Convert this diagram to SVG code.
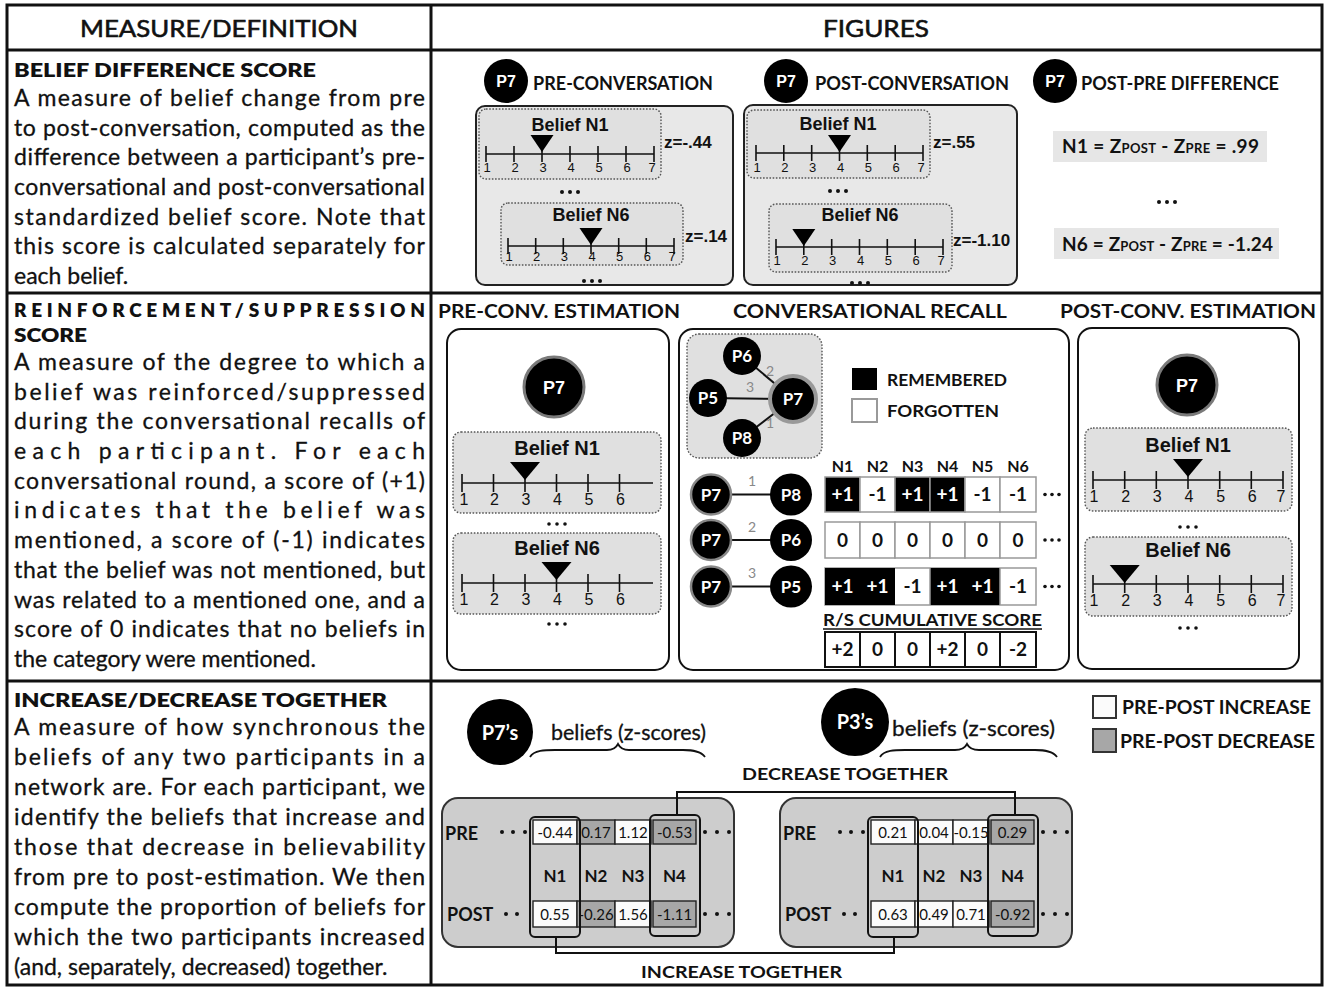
<svg xmlns="http://www.w3.org/2000/svg" width="1329" height="987" viewBox="0 0 1329 987">
<defs>
<style>
.s{font-family:Lato,"Open Sans","DejaVu Sans",sans-serif;fill:#111}
.a{font-family:"Liberation Sans",Arial,sans-serif;fill:#111}
.body{font-size:23px;stroke:#111;stroke-width:0.3}
.hd{font-size:19px;font-weight:800}
.cap{font-size:19px;font-weight:700}
.bl{font-weight:700}
.w{fill:#fff}
.grid{stroke:#111;stroke-width:3;fill:none}
.p1{fill:#e8e8e8;stroke:#222;stroke-width:2}
.db{fill:#e0e0e0;stroke:#555;stroke-width:1.4;stroke-dasharray:1.6 1.6}
.ax{stroke:#111;stroke-width:1.6;fill:none}
.pn{fill:#fff;stroke:#111;stroke-width:2}
.g3{fill:#cdcdcd;stroke:#333;stroke-width:2}
.cw{fill:#fbfbfb;stroke:#222;stroke-width:1.4}
.cg{fill:#a7a7a7;stroke:#222;stroke-width:1.4}
.col{fill:none;stroke:#111;stroke-width:2}
.conn{fill:none;stroke:#111;stroke-width:2}
.edge{stroke:#111;stroke-width:2}
.lbl{font-family:Lato,sans-serif;font-size:14px;fill:#888}
.rw{fill:#fff;stroke:#999;stroke-width:1.5}
.rb{fill:#000;stroke:#999;stroke-width:1.5}
.n13{font-size:13px}
.n16{font-size:16px}
.z{font-size:17px;font-weight:700}
.bel{font-weight:700}
.cv{font-size:15px}
.top{font-size:24px;stroke:#111;stroke-width:0.6}
</style>
</defs>
<rect width="1329" height="987" fill="#fff"/>

<g id="grid">
<rect class="grid" x="7" y="5" width="1315" height="980"/>
<line class="grid" x1="7" y1="50" x2="1322" y2="50"/>
<line class="grid" x1="7" y1="293" x2="1322" y2="293"/>
<line class="grid" x1="7" y1="681" x2="1322" y2="681"/>
<line class="grid" x1="431" y1="5" x2="431" y2="985"/>
<text class="s top" x="219" y="37" text-anchor="middle" textLength="278" lengthAdjust="spacingAndGlyphs">MEASURE/DEFINITION</text>
<text class="s top" x="876" y="37" text-anchor="middle" textLength="106" lengthAdjust="spacingAndGlyphs">FIGURES</text>
</g>

<g id="def-belief-difference">
<text class="s hd" x="14" y="77" textLength="302" lengthAdjust="spacingAndGlyphs">BELIEF DIFFERENCE SCORE</text>
<g class="s body">
<text x="14" y="106" textLength="411" lengthAdjust="spacing">A measure of belief change from pre</text>
<text x="14" y="136" textLength="411" lengthAdjust="spacing">to post-conversation, computed as the</text>
<text x="14" y="165" textLength="411" lengthAdjust="spacing">difference between a participant’s pre-</text>
<text x="14" y="195" textLength="411" lengthAdjust="spacing">conversational and post-conversational</text>
<text x="14" y="225" textLength="411" lengthAdjust="spacing">standardized belief score. Note that</text>
<text x="14" y="254" textLength="411" lengthAdjust="spacing">this score is calculated separately for</text>
<text x="14" y="284">each belief.</text>
</g>
</g>

<g id="def-reinforcement">
<text class="s hd" x="14" y="317" font-size="20" textLength="411" lengthAdjust="spacing">REINFORCEMENT/SUPPRESSION</text>
<text class="s hd" x="14" y="342" font-size="20" textLength="73" lengthAdjust="spacingAndGlyphs">SCORE</text>
<g class="s body">
<text x="14" y="370" textLength="411" lengthAdjust="spacing">A measure of the degree to which a</text>
<text x="14" y="400" textLength="411" lengthAdjust="spacing">belief was reinforced/suppressed</text>
<text x="14" y="429" textLength="411" lengthAdjust="spacing">during the conversational recalls of</text>
<text x="14" y="459" textLength="411" lengthAdjust="spacing">each participant. For each</text>
<text x="14" y="489" textLength="411" lengthAdjust="spacing">conversational round, a score of (+1)</text>
<text x="14" y="518" textLength="411" lengthAdjust="spacing">indicates that the belief was</text>
<text x="14" y="548" textLength="411" lengthAdjust="spacing">mentioned, a score of (-1) indicates</text>
<text x="14" y="578" textLength="411" lengthAdjust="spacing">that the belief was not mentioned, but</text>
<text x="14" y="608" textLength="411" lengthAdjust="spacing">was related to a mentioned one, and a</text>
<text x="14" y="637" textLength="411" lengthAdjust="spacing">score of 0 indicates that no beliefs in</text>
<text x="14" y="667">the category were mentioned.</text>
</g>
</g>

<g id="def-increase-decrease">
<text class="s hd" x="14" y="707" font-size="20" textLength="373" lengthAdjust="spacingAndGlyphs">INCREASE/DECREASE TOGETHER</text>
<g class="s body">
<text x="14" y="735" textLength="411" lengthAdjust="spacing">A measure of how synchronous the</text>
<text x="14" y="765" textLength="411" lengthAdjust="spacing">beliefs of any two participants in a</text>
<text x="14" y="795" textLength="411" lengthAdjust="spacing">network are. For each participant, we</text>
<text x="14" y="825" textLength="411" lengthAdjust="spacing">identify the beliefs that increase and</text>
<text x="14" y="855" textLength="411" lengthAdjust="spacing">those that decrease in believability</text>
<text x="14" y="885" textLength="411" lengthAdjust="spacing">from pre to post-estimation. We then</text>
<text x="14" y="915" textLength="411" lengthAdjust="spacing">compute the proportion of beliefs for</text>
<text x="14" y="945" textLength="411" lengthAdjust="spacing">which the two participants increased</text>
<text x="14" y="975">(and, separately, decreased) together.</text>
</g>
</g>

<!-- ROW 1 FIGURES -->
<g id="pre-conversation">
<circle cx="506" cy="81" r="22" fill="#000"/>
<text class="a w bel" x="506" y="87" font-size="16" text-anchor="middle">P7</text>
<text class="s cap" x="533" y="90" textLength="180" lengthAdjust="spacingAndGlyphs">PRE-CONVERSATION</text>
<rect class="p1" x="476" y="106" width="257" height="179" rx="9"/>
<rect class="db" x="479" y="109" width="182" height="70" rx="7"/>
<text class="a bel" x="570" y="131" font-size="18" text-anchor="middle">Belief N1</text>
<path class="ax" d="M486 154H654M486 146V162M514 146V162M542 146V162M570 146V162M598 146V162M626 146V162M654 146V162"/>
<polygon points="530.5,135 553.5,135 542,152" fill="#000"/>
<g class="a n13" text-anchor="middle"><text x="487" y="172">1</text><text x="515" y="172">2</text><text x="543" y="172">3</text><text x="571" y="172">4</text><text x="599" y="172">5</text><text x="627" y="172">6</text><text x="652" y="172">7</text></g>
<text class="a z" x="664" y="148">z=-.44</text>
<g fill="#111"><circle cx="562" cy="192" r="2"/><circle cx="570" cy="192" r="2"/><circle cx="578" cy="192" r="2"/></g>
<rect class="db" x="501" y="203" width="182" height="62" rx="7"/>
<text class="a bel" x="591" y="221" font-size="18" text-anchor="middle">Belief N6</text>
<path class="ax" d="M508 246H674M508 238V254M535.7 238V254M563.3 238V254M591 238V254M618.7 238V254M646.3 238V254M674 238V254"/>
<polygon points="579.5,228 602.5,228 591,245" fill="#000"/>
<g class="a n13" text-anchor="middle"><text x="509" y="261">1</text><text x="536.7" y="261">2</text><text x="564.3" y="261">3</text><text x="592" y="261">4</text><text x="619.7" y="261">5</text><text x="647.3" y="261">6</text><text x="672" y="261">7</text></g>
<text class="a z" x="685" y="242">z=.14</text>
<g fill="#111"><circle cx="584" cy="281" r="2"/><circle cx="592" cy="281" r="2"/><circle cx="600" cy="281" r="2"/></g>
</g>

<g id="post-conversation">
<circle cx="786" cy="81" r="22" fill="#000"/>
<text class="a w bel" x="786" y="87" font-size="16" text-anchor="middle">P7</text>
<text class="s cap" x="815" y="90" textLength="194" lengthAdjust="spacingAndGlyphs">POST-CONVERSATION</text>
<rect class="p1" x="744" y="105" width="273" height="180" rx="9"/>
<rect class="db" x="747" y="110" width="183" height="68" rx="7"/>
<text class="a bel" x="838" y="130" font-size="18" text-anchor="middle">Belief N1</text>
<path class="ax" d="M756 153H923M756 145V161M783.8 145V161M811.7 145V161M839.5 145V161M867.3 145V161M895.2 145V161M923 145V161"/>
<polygon points="828,135 851,135 839.5,152" fill="#000"/>
<g class="a n13" text-anchor="middle"><text x="757" y="172">1</text><text x="784.8" y="172">2</text><text x="812.7" y="172">3</text><text x="840.5" y="172">4</text><text x="868.3" y="172">5</text><text x="896.2" y="172">6</text><text x="921" y="172">7</text></g>
<text class="a z" x="933" y="148">z=.55</text>
<g fill="#111"><circle cx="830" cy="191" r="2"/><circle cx="838" cy="191" r="2"/><circle cx="846" cy="191" r="2"/></g>
<rect class="db" x="769" y="204" width="183" height="68" rx="7"/>
<text class="a bel" x="860" y="221" font-size="18" text-anchor="middle">Belief N6</text>
<path class="ax" d="M776 247H943M776 239V255M803.8 239V255M831.7 239V255M859.5 239V255M887.3 239V255M915.2 239V255M943 239V255"/>
<polygon points="792.3,229 815.3,229 803.8,246" fill="#000"/>
<g class="a n13" text-anchor="middle"><text x="777" y="265">1</text><text x="804.8" y="265">2</text><text x="832.7" y="265">3</text><text x="860.5" y="265">4</text><text x="888.3" y="265">5</text><text x="916.2" y="265">6</text><text x="941" y="265">7</text></g>
<text class="a z" x="953" y="246">z=-1.10</text>
<g fill="#111"><circle cx="852" cy="283" r="2"/><circle cx="860" cy="283" r="2"/><circle cx="868" cy="283" r="2"/></g>
</g>

<g id="post-pre-difference">
<circle cx="1055" cy="81" r="22" fill="#000"/>
<text class="a w bel" x="1055" y="87" font-size="16" text-anchor="middle">P7</text>
<text class="s cap" x="1081" y="90" textLength="198" lengthAdjust="spacingAndGlyphs">POST-PRE DIFFERENCE</text>
<rect x="1053" y="131" width="214" height="31" fill="#e6e6e6"/>
<text class="s" x="1062" y="153" font-size="19" font-weight="700" textLength="197" lengthAdjust="spacing">N1 = Z<tspan font-size="13">POST</tspan> - Z<tspan font-size="13">PRE</tspan> = .99</text>
<g fill="#111"><circle cx="1159" cy="202" r="2"/><circle cx="1167" cy="202" r="2"/><circle cx="1175" cy="202" r="2"/></g>
<rect x="1054" y="228" width="225" height="31" fill="#e6e6e6"/>
<text class="s" x="1062" y="251" font-size="19" font-weight="700" textLength="211" lengthAdjust="spacing">N6 = Z<tspan font-size="13">POST</tspan> - Z<tspan font-size="13">PRE</tspan> = -1.24</text>
</g>

<!-- ROW 2 FIGURES -->
<g id="pre-conv-estimation">
<text class="s cap" x="438" y="318" textLength="242" lengthAdjust="spacingAndGlyphs">PRE-CONV. ESTIMATION</text>
<rect class="pn" x="447" y="329" width="222" height="341" rx="14"/>
<circle cx="554" cy="387" r="30" fill="#000" stroke="#7a7a7a" stroke-width="3"/>
<text class="a w bel" x="554" y="394" font-size="18" text-anchor="middle">P7</text>
<rect class="db" x="453" y="432" width="208" height="81" rx="8"/>
<text class="a bel" x="557" y="455" font-size="20" text-anchor="middle">Belief N1</text>
<path class="ax" d="M462 483H653M462 474V492M493.5 474V492M525 474V492M556.5 474V492M588 474V492M619.5 474V492"/>
<polygon points="510,462 540,462 525,480" fill="#000"/>
<g class="a n16" text-anchor="middle"><text x="464" y="505">1</text><text x="494.5" y="505">2</text><text x="526" y="505">3</text><text x="557.5" y="505">4</text><text x="589" y="505">5</text><text x="620.5" y="505">6</text></g>
<g fill="#111"><circle cx="549" cy="524" r="1.8"/><circle cx="557" cy="524" r="1.8"/><circle cx="565" cy="524" r="1.8"/></g>
<rect class="db" x="453" y="533" width="208" height="81" rx="8"/>
<text class="a bel" x="557" y="555" font-size="20" text-anchor="middle">Belief N6</text>
<path class="ax" d="M462 583H653M462 574V592M493.5 574V592M525 574V592M556.5 574V592M588 574V592M619.5 574V592"/>
<polygon points="541.5,562 571.5,562 556.5,580" fill="#000"/>
<g class="a n16" text-anchor="middle"><text x="464" y="605">1</text><text x="494.5" y="605">2</text><text x="526" y="605">3</text><text x="557.5" y="605">4</text><text x="589" y="605">5</text><text x="620.5" y="605">6</text></g>
<g fill="#111"><circle cx="549" cy="624" r="1.8"/><circle cx="557" cy="624" r="1.8"/><circle cx="565" cy="624" r="1.8"/></g>
</g>

<g id="conversational-recall">
<text class="s cap" x="733" y="318" textLength="274" lengthAdjust="spacingAndGlyphs">CONVERSATIONAL RECALL</text>
<rect class="pn" x="679" y="329" width="390" height="341" rx="14"/>
<rect class="db" x="687" y="334" width="135" height="124" rx="12"/>
<g id="network">
<line class="edge" x1="742" y1="356" x2="793" y2="399"/>
<line class="edge" x1="708" y1="398" x2="793" y2="399"/>
<line class="edge" x1="742" y1="438" x2="793" y2="399"/>
<text class="lbl" x="770" y="376" text-anchor="middle">2</text>
<text class="lbl" x="750" y="392" text-anchor="middle">3</text>
<text class="lbl" x="770" y="428" text-anchor="middle">1</text>
<circle cx="742" cy="356" r="19" fill="#000"/>
<text class="s w bl" x="742" y="362" font-size="17" text-anchor="middle">P6</text>
<circle cx="708" cy="398" r="19" fill="#000"/>
<text class="s w bl" x="708" y="404" font-size="17" text-anchor="middle">P5</text>
<circle cx="742" cy="438" r="19" fill="#000"/>
<text class="s w bl" x="742" y="444" font-size="17" text-anchor="middle">P8</text>
<circle cx="793" cy="399" r="23" fill="#000" stroke="#999" stroke-width="4"/>
<text class="s w bl" x="793" y="405" font-size="17" text-anchor="middle">P7</text>
</g>
<rect x="852" y="368" width="25" height="22" fill="#000"/>
<text class="s" x="887" y="386" font-size="17" font-weight="700" textLength="120" lengthAdjust="spacingAndGlyphs">REMEMBERED</text>
<rect x="852" y="399" width="25" height="23" fill="#fff" stroke="#999" stroke-width="2"/>
<text class="s" x="887" y="417" font-size="17" font-weight="700" textLength="112" lengthAdjust="spacingAndGlyphs">FORGOTTEN</text>
<g class="s" font-size="16" font-weight="700" text-anchor="middle">
<text x="842.5" y="472">N1</text><text x="877.5" y="472">N2</text><text x="912.5" y="472">N3</text><text x="947.5" y="472">N4</text><text x="982.5" y="472">N5</text><text x="1018" y="472">N6</text>
</g>
<g id="pair1">
<line class="edge" x1="711" y1="494.5" x2="791" y2="494.5" stroke-width="1.5"/>
<text class="lbl" x="752" y="486" text-anchor="middle">1</text>
<circle cx="711" cy="494.5" r="20" fill="#000" stroke="#888" stroke-width="2.5"/>
<text class="s w bl" x="711" y="501" font-size="17" text-anchor="middle">P7</text>
<circle cx="791" cy="494.5" r="21" fill="#000"/>
<text class="s w bl" x="791" y="501" font-size="17" text-anchor="middle">P8</text>
</g>
<g id="pair2">
<line class="edge" x1="711" y1="540" x2="791" y2="540" stroke-width="1.5"/>
<text class="lbl" x="752" y="532" text-anchor="middle">2</text>
<circle cx="711" cy="540" r="20" fill="#000" stroke="#888" stroke-width="2.5"/>
<text class="s w bl" x="711" y="546" font-size="17" text-anchor="middle">P7</text>
<circle cx="791" cy="540" r="21" fill="#000"/>
<text class="s w bl" x="791" y="546" font-size="17" text-anchor="middle">P6</text>
</g>
<g id="pair3">
<line class="edge" x1="711" y1="586.5" x2="791" y2="586.5" stroke-width="1.5"/>
<text class="lbl" x="752" y="578" text-anchor="middle">3</text>
<circle cx="711" cy="586.5" r="20" fill="#000" stroke="#888" stroke-width="2.5"/>
<text class="s w bl" x="711" y="593" font-size="17" text-anchor="middle">P7</text>
<circle cx="791" cy="586.5" r="21" fill="#000"/>
<text class="s w bl" x="791" y="593" font-size="17" text-anchor="middle">P5</text>
</g>
<g id="scores1">
<rect class="rb" x="825" y="477" width="35" height="35"/><rect class="rw" x="860" y="477" width="35" height="35"/><rect class="rb" x="895" y="477" width="35" height="35"/><rect class="rb" x="930" y="477" width="35" height="35"/><rect class="rw" x="965" y="477" width="35" height="35"/><rect class="rw" x="1000" y="477" width="36" height="35"/>
<g class="s" font-size="19" font-weight="700" text-anchor="middle">
<text x="842.5" y="501" fill="#fff">+1</text><text x="877.5" y="501">-1</text><text x="912.5" y="501" fill="#fff">+1</text><text x="947.5" y="501" fill="#fff">+1</text><text x="982.5" y="501">-1</text><text x="1018" y="501">-1</text>
</g>
<g fill="#111"><circle cx="1045" cy="494.5" r="1.8"/><circle cx="1052" cy="494.5" r="1.8"/><circle cx="1059" cy="494.5" r="1.8"/></g>
</g>
<g id="scores2">
<rect class="rw" x="825" y="522" width="35" height="36"/><rect class="rw" x="860" y="522" width="35" height="36"/><rect class="rw" x="895" y="522" width="35" height="36"/><rect class="rw" x="930" y="522" width="35" height="36"/><rect class="rw" x="965" y="522" width="35" height="36"/><rect class="rw" x="1000" y="522" width="36" height="36"/>
<g class="s" font-size="19" font-weight="700" text-anchor="middle">
<text x="842.5" y="547">0</text><text x="877.5" y="547">0</text><text x="912.5" y="547">0</text><text x="947.5" y="547">0</text><text x="982.5" y="547">0</text><text x="1018" y="547">0</text>
</g>
<g fill="#111"><circle cx="1045" cy="540" r="1.8"/><circle cx="1052" cy="540" r="1.8"/><circle cx="1059" cy="540" r="1.8"/></g>
</g>
<g id="scores3">
<rect class="rw" x="825" y="568" width="211" height="37"/>
<rect x="825" y="568" width="70" height="37" fill="#000"/><rect x="930" y="568" width="70" height="37" fill="#000"/>
<line x1="930" y1="568" x2="930" y2="605" stroke="#999" stroke-width="1.5"/><line x1="1000" y1="568" x2="1000" y2="605" stroke="#999" stroke-width="1.5"/>
<g class="s" font-size="19" font-weight="700" text-anchor="middle">
<text x="842.5" y="593" fill="#fff">+1</text><text x="877.5" y="593" fill="#fff">+1</text><text x="912.5" y="593">-1</text><text x="947.5" y="593" fill="#fff">+1</text><text x="982.5" y="593" fill="#fff">+1</text><text x="1018" y="593">-1</text>
</g>
<g fill="#111"><circle cx="1045" cy="586.5" r="1.8"/><circle cx="1052" cy="586.5" r="1.8"/><circle cx="1059" cy="586.5" r="1.8"/></g>
</g>
<g id="cumulative">
<text class="s" x="823" y="626" font-size="17" font-weight="700" textLength="219" lengthAdjust="spacingAndGlyphs">R/S  CUMULATIVE SCORE</text>
<line x1="823" y1="629" x2="1042" y2="629" stroke="#111" stroke-width="1.5"/>
<g fill="#fff" stroke="#111" stroke-width="2">
<rect x="825" y="632" width="35" height="35"/><rect x="860" y="632" width="35" height="35"/><rect x="895" y="632" width="35" height="35"/><rect x="930" y="632" width="35" height="35"/><rect x="965" y="632" width="35" height="35"/><rect x="1000" y="632" width="36" height="35"/>
</g>
<g class="s" font-size="19" font-weight="700" text-anchor="middle">
<text x="842.5" y="656">+2</text><text x="877.5" y="656">0</text><text x="912.5" y="656">0</text><text x="947.5" y="656">+2</text><text x="982.5" y="656">0</text><text x="1018" y="656">-2</text>
</g>
</g>
</g>

<g id="post-conv-estimation">
<text class="s cap" x="1060" y="318" textLength="256" lengthAdjust="spacingAndGlyphs">POST-CONV. ESTIMATION</text>
<rect class="pn" x="1078" y="328" width="221" height="341" rx="14"/>
<circle cx="1187" cy="385" r="30" fill="#000" stroke="#7a7a7a" stroke-width="3"/>
<text class="a w bel" x="1187" y="392" font-size="18" text-anchor="middle">P7</text>
<rect class="db" x="1085" y="428" width="207" height="83" rx="8"/>
<text class="a bel" x="1188" y="452" font-size="20" text-anchor="middle">Belief N1</text>
<path class="ax" d="M1093 480H1283M1093 471V489M1124.7 471V489M1156.3 471V489M1188 471V489M1219.7 471V489M1251.3 471V489M1283 471V489"/>
<polygon points="1173,459 1203,459 1188,477" fill="#000"/>
<g class="a n16" text-anchor="middle"><text x="1094" y="502">1</text><text x="1125.7" y="502">2</text><text x="1157.3" y="502">3</text><text x="1189" y="502">4</text><text x="1220.7" y="502">5</text><text x="1252.3" y="502">6</text><text x="1281" y="502">7</text></g>
<g fill="#111"><circle cx="1180" cy="527" r="1.8"/><circle cx="1188" cy="527" r="1.8"/><circle cx="1196" cy="527" r="1.8"/></g>
<rect class="db" x="1085" y="537" width="207" height="79" rx="8"/>
<text class="a bel" x="1188" y="557" font-size="20" text-anchor="middle">Belief N6</text>
<path class="ax" d="M1093 584H1283M1093 575V593M1124.7 575V593M1156.3 575V593M1188 575V593M1219.7 575V593M1251.3 575V593M1283 575V593"/>
<polygon points="1109.7,565 1139.7,565 1124.7,583" fill="#000"/>
<g class="a n16" text-anchor="middle"><text x="1094" y="606">1</text><text x="1125.7" y="606">2</text><text x="1157.3" y="606">3</text><text x="1189" y="606">4</text><text x="1220.7" y="606">5</text><text x="1252.3" y="606">6</text><text x="1281" y="606">7</text></g>
<g fill="#111"><circle cx="1180" cy="628" r="1.8"/><circle cx="1188" cy="628" r="1.8"/><circle cx="1196" cy="628" r="1.8"/></g>
</g>

<!-- ROW 3 FIGURES -->
<g id="p7-beliefs">
<circle cx="500" cy="732" r="33" fill="#000"/>
<text class="s w" x="500" y="740" font-size="20" font-weight="700" text-anchor="middle">P7’s</text>
<text class="s" x="551" y="740" font-size="21" stroke="#111" stroke-width="0.3" textLength="155" lengthAdjust="spacingAndGlyphs">beliefs (z-scores)</text>
<path d="M530 757C534 750 545 750 555 750L607 750C613 750 616 748 618 744C620 748 623 750 629 750L683 750C693 750 701 751 705 757" fill="none" stroke="#111" stroke-width="1.8"/>
<rect class="g3" x="442" y="798" width="292" height="149" rx="16"/>
<text class="s" x="445" y="840" font-size="18" font-weight="700">PRE</text>
<text class="s" x="447" y="921" font-size="18" font-weight="700">POST</text>
<g fill="#111"><circle cx="502" cy="832" r="2"/><circle cx="513" cy="832" r="2"/><circle cx="525" cy="832" r="2"/><circle cx="705" cy="832" r="2"/><circle cx="717" cy="832" r="2"/><circle cx="729" cy="832" r="2"/>
<circle cx="506" cy="914" r="2"/><circle cx="517" cy="914" r="2"/><circle cx="705" cy="914" r="2"/><circle cx="717" cy="914" r="2"/><circle cx="729" cy="914" r="2"/></g>
<rect class="cw" x="533" y="820" width="44" height="24"/><rect class="cg" x="577" y="820" width="38" height="24"/><rect class="cw" x="615" y="820" width="36" height="24"/><rect class="cg" x="653" y="820" width="43" height="24"/>
<rect class="cw" x="533" y="901" width="44" height="26"/><rect class="cg" x="577" y="901" width="38" height="26"/><rect class="cw" x="615" y="901" width="36" height="26"/><rect class="cg" x="653" y="901" width="43" height="26"/>
<g class="s cv" text-anchor="middle">
<text x="555" y="838">-0.44</text><text x="596" y="838">0.17</text><text x="633" y="838">1.12</text><text x="674.5" y="838">-0.53</text>
<text x="555" y="920">0.55</text><text x="596" y="920">-0.26</text><text x="633" y="920">1.56</text><text x="674.5" y="920">-1.11</text>
</g>
<g class="s" font-size="17" font-weight="700" text-anchor="middle">
<text x="555" y="882">N1</text><text x="596" y="882">N2</text><text x="633" y="882">N3</text><text x="674.5" y="882">N4</text>
</g>
<rect class="col" x="530" y="817" width="50" height="120" rx="5"/>
<rect class="col" x="650" y="815" width="50" height="121" rx="5"/>
</g>

<g id="p3-beliefs">
<circle cx="855" cy="722" r="34" fill="#000"/>
<text class="s w" x="855" y="729" font-size="20" font-weight="700" text-anchor="middle">P3’s</text>
<text class="s" x="892" y="736" font-size="21" stroke="#111" stroke-width="0.3" textLength="163" lengthAdjust="spacingAndGlyphs">beliefs (z-scores)</text>
<path d="M880 757C884 750 895 750 905 750L955 750C961 750 965 748 967 744C969 748 973 750 979 750L1035 750C1045 750 1053 751 1057 757" fill="none" stroke="#111" stroke-width="1.8"/>
<rect class="g3" x="780" y="798" width="292" height="149" rx="16"/>
<text class="s" x="783" y="840" font-size="18" font-weight="700">PRE</text>
<text class="s" x="785" y="921" font-size="18" font-weight="700">POST</text>
<g fill="#111"><circle cx="840" cy="832" r="2"/><circle cx="851" cy="832" r="2"/><circle cx="863" cy="832" r="2"/><circle cx="1043" cy="832" r="2"/><circle cx="1055" cy="832" r="2"/><circle cx="1067" cy="832" r="2"/>
<circle cx="844" cy="914" r="2"/><circle cx="855" cy="914" r="2"/><circle cx="1043" cy="914" r="2"/><circle cx="1055" cy="914" r="2"/><circle cx="1067" cy="914" r="2"/></g>
<rect class="cw" x="871" y="820" width="44" height="24"/><rect class="cw" x="915" y="820" width="38" height="24"/><rect class="cw" x="953" y="820" width="36" height="24"/><rect class="cg" x="991" y="820" width="43" height="24"/>
<rect class="cw" x="871" y="901" width="44" height="26"/><rect class="cw" x="915" y="901" width="38" height="26"/><rect class="cw" x="953" y="901" width="36" height="26"/><rect class="cg" x="991" y="901" width="43" height="26"/>
<g class="s cv" text-anchor="middle">
<text x="893" y="838">0.21</text><text x="934" y="838">0.04</text><text x="971" y="838">-0.15</text><text x="1012.5" y="838">0.29</text>
<text x="893" y="920">0.63</text><text x="934" y="920">0.49</text><text x="971" y="920">0.71</text><text x="1012.5" y="920">-0.92</text>
</g>
<g class="s" font-size="17" font-weight="700" text-anchor="middle">
<text x="893" y="882">N1</text><text x="934" y="882">N2</text><text x="971" y="882">N3</text><text x="1012.5" y="882">N4</text>
</g>
<rect class="col" x="868" y="817" width="50" height="120" rx="5"/>
<rect class="col" x="988" y="815" width="50" height="121" rx="5"/>
</g>

<g id="legend-increase-decrease">
<rect x="1093" y="696" width="23" height="22" fill="#fbfbfb" stroke="#333" stroke-width="2"/>
<text class="s" x="1122" y="714" font-size="18" font-weight="700" textLength="189" lengthAdjust="spacingAndGlyphs">PRE-POST INCREASE</text>
<rect x="1093" y="729" width="23" height="23" fill="#a7a7a7" stroke="#333" stroke-width="2"/>
<text class="s" x="1120" y="748" font-size="18" font-weight="700" textLength="195" lengthAdjust="spacingAndGlyphs">PRE-POST DECREASE</text>
</g>

<g id="connectors">
<path class="conn" d="M677 815V792H1015V815"/>
<path class="conn" d="M556 937V953H894V937"/>
<text class="s" x="742" y="780" font-size="17" font-weight="700" textLength="206" lengthAdjust="spacingAndGlyphs">DECREASE TOGETHER</text>
<text class="s" x="641" y="978" font-size="17" font-weight="700" textLength="201" lengthAdjust="spacingAndGlyphs">INCREASE TOGETHER</text>
</g>
</svg>
